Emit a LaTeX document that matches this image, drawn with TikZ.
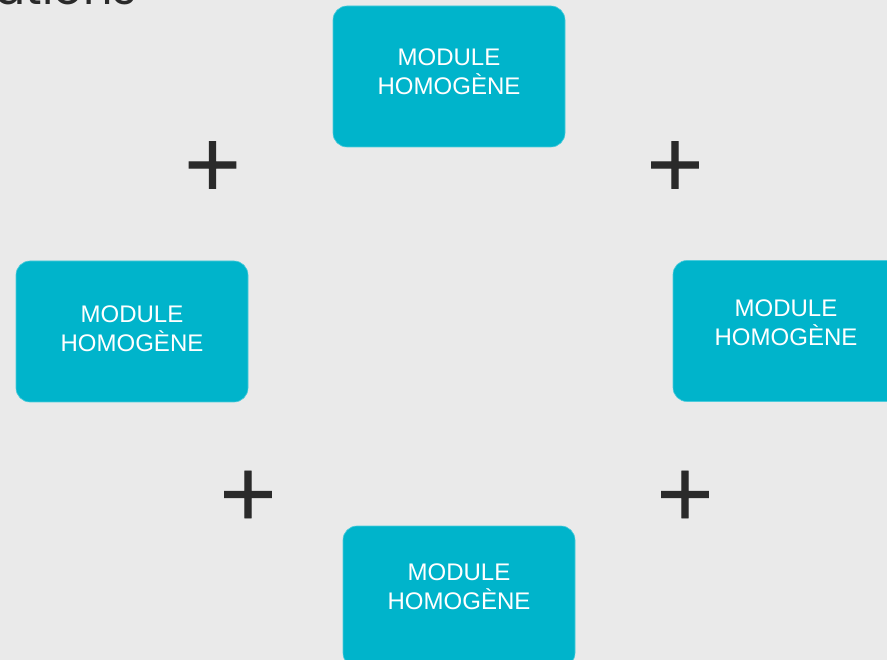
\documentclass[tikz,border=0pt]{standalone}
\usepackage{fontspec}
\setmainfont{Liberation Sans}
\newfontfamily\headfont{Poppins}
\newfontfamily\plusfont{DejaVu Sans}[FakeBold=1.2]
\usepackage{tikz}
\usetikzlibrary{positioning}

\definecolor{bgGray}{HTML}{EAEAEA}
\definecolor{modCyan}{HTML}{00B4CB}
\definecolor{signDark}{HTML}{2A2A2A}

\begin{document}
\begin{tikzpicture}[x=1pt, y=-1pt,
        % STYLES
        module/.style={rectangle, rounded corners=14pt, fill=modCyan, draw=modCyan!70!white, line width=0.6pt, minimum width=232pt, minimum height=141pt, inner sep=0pt},
        modtext/.style={text=white, align=center, font=\fontsize{24}{29}\selectfont, inner sep=0pt},
        % SIGNS
        plus/.style={anchor=base, text=signDark, font=\plusfont\fontsize{75}{75}\selectfont, inner sep=0pt}
    ]

    % ===================================
    % 0. Background and title
    % ===================================
    \fill[bgGray] (0,0) rectangle (887,660);
    \useasboundingbox (0,0) rectangle (887,660);
    \node[anchor=base east, text=signDark, font=\headfont\fontsize{46}{46}\selectfont, inner sep=0pt] (title) at (137,4.5) {lations};

    % ===================================
    % 1. Modules
    % ===================================
    \node[module] (mtop) at (449,76.5) {};
    \node[module] (mleft) at (132,331.5) {};
    \node[module] (mright) at (789,331) {};
    \node[module] (mbottom) at (459,596.5) {};

    % --- Texts of the modules ---
    \node[modtext] (ttop) at ([yshift=5pt]mtop.center) {MODULE\\HOMOGÈNE};
    \node[modtext] (tleft) at ([yshift=3pt]mleft.center) {MODULE\\HOMOGÈNE};
    \node[modtext] (tright) at ([xshift=-3pt, yshift=8pt]mright.center) {MODULE\\HOMOGÈNE};
    \node[modtext] (tbottom) at ([yshift=10pt]mbottom.center) {MODULE\\HOMOGÈNE};

    % ===================================
    % 2. Plus signs (baseline = foot of the bar)
    % ===================================
    \node[plus] (p1) at (212.5,188.5) {+};
    \node[plus] (p2) at (675,188.5) {+};
    \node[plus] (p3) at (248,518) {+};
    \node[plus] (p4) at (685,518) {+};

\end{tikzpicture}
\end{document}
